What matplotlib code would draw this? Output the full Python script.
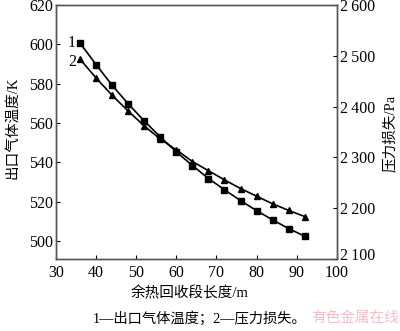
import matplotlib
matplotlib.use("Agg")
import matplotlib.pyplot as plt
import matplotlib.transforms as mtransforms
from matplotlib.ticker import FuncFormatter, FixedLocator

length_m = [36, 40, 44, 48, 52, 56, 60, 64, 68, 72, 76, 80, 84, 88, 92]
outlet_temp_K = [600.5, 589.6, 579.1, 569.7, 561.0, 552.9, 545.3, 538.4, 531.8,
                 526.1, 520.6, 515.5, 510.8, 506.4, 502.5]
pressure_loss_Pa = [2493, 2456, 2422, 2391, 2362, 2336, 2315, 2292, 2274,
                    2256, 2239, 2224, 2209, 2196, 2184]
x_ticks = [30, 40, 50, 60, 70, 80, 90, 100]
left_ticks = [500, 520, 540, 560, 580, 600, 620]
right_ticks = [2100, 2200, 2300, 2400, 2500, 2600]

serif = ["Liberation Serif", "DejaVu Serif"]
mixed = ["Liberation Serif", "Noto Sans CJK SC", "DejaVu Sans"]

fig = plt.figure(figsize=(4.0, 3.31), dpi=100)
ax = fig.add_axes([0.14, 0.2166, 0.702, 0.7692])
ax2 = ax.twinx()

ax.plot(length_m, outlet_temp_K, color="black", lw=1.2, marker="s", ms=4.5)
ax2.plot(length_m, pressure_loss_Pa, color="black", lw=1.2, marker="^", ms=4.5)

ax.set_xlim(30, 100)
ax.set_ylim(490.8, 620)
ax2.set_ylim(2100, 2600)

ax.xaxis.set_major_locator(FixedLocator(x_ticks))
ax.yaxis.set_major_locator(FixedLocator(left_ticks))
ax2.yaxis.set_major_locator(FixedLocator(right_ticks))
ax2.yaxis.set_major_formatter(FuncFormatter(lambda v, p: f"{int(v)//1000}\u2009{int(v)%1000:03d}"))

for a in (ax, ax2):
    a.tick_params(direction="in", length=3, width=0.8, labelsize=11.5, pad=2)
    for s in a.spines.values():
        s.set_color("#555555")
        s.set_linewidth(1.0)
ax.tick_params(axis="x", pad=4)

fig.canvas.draw()
for a in (ax, ax2):
    for lab in a.get_xticklabels() + a.get_yticklabels():
        lab.set_family(serif)
# lift the bottom right-axis label slightly as in the reference
lab0 = ax2.get_yticklabels()[0]
lab0.set_transform(lab0.get_transform() + mtransforms.ScaledTranslation(0, 4 / 72, fig.dpi_scale_trans))

ax.text(36 - 1.2, 600.5, "1", ha="right", va="center", fontsize=11.5, family=serif)
ax.text(36 - 1.0, 591.0, "2", ha="right", va="center", fontsize=11.5, family=serif)

fig.text(0.03, 0.613, "出口气体温度/K", rotation=90, ha="center", va="center",
         fontsize=10.5, family=mixed)
fig.text(0.975, 0.598, "压力损失/Pa", rotation=90, ha="center", va="center",
         fontsize=10.5, family=mixed)
fig.text(0.475, 0.115, "余热回收段长度/m", ha="center", va="center",
         fontsize=10.5, family=mixed)
fig.text(0.50, 0.039, "1—出口气体温度；2—压力损失。", ha="center", va="center",
         fontsize=10.3, family=mixed)
fig.text(0.997, 0.039, "有色金属在线", ha="right", va="center",
         fontsize=10.5, family=mixed, color="#f0a8b0", alpha=0.75)

fig.savefig("out.png", dpi=100)
